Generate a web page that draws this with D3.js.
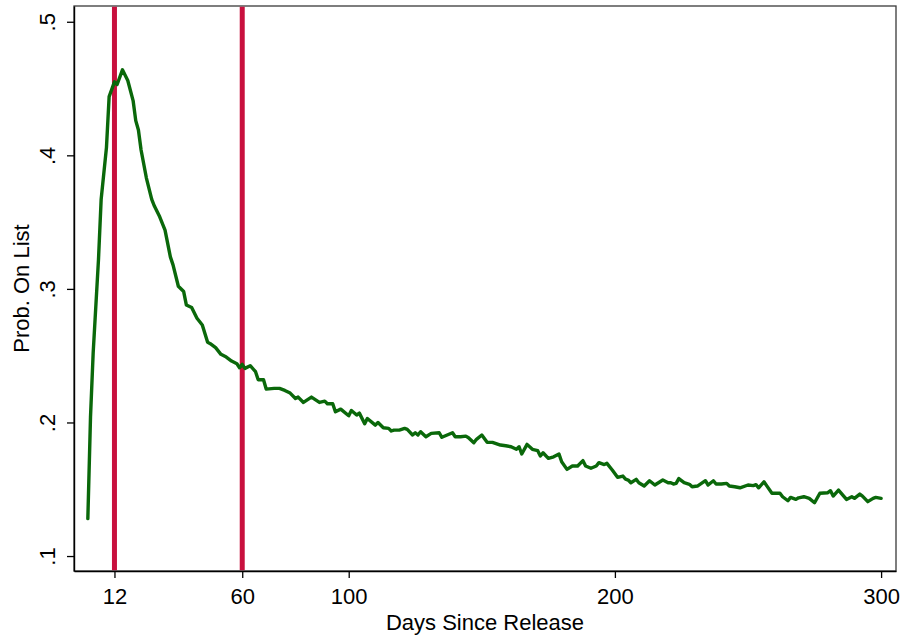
<!DOCTYPE html>
<html>
<head>
<meta charset="utf-8">
<script src="https://cdn.jsdelivr.net/npm/d3@7"></script>
<style>
  html, body { margin: 0; padding: 0; background: #fff; }
  svg { display: block; }
  text { font-family: "Liberation Sans", Arial, Helvetica, sans-serif; fill: #000; }
</style>
</head>
<body>
<svg id="chart" width="902" height="639"></svg>
<script>
// ---- data ----
const days = [2,3,4,6,7,9,10,12,13,15,17,19,20,21,22,24,26,27,29,31,33,34,36,38,39,41,43,45,47,48,50,52,54,56,58,59,60,61,63,65,66,68,69,72,74,76,78,80,81,83,86,89,91,92,94,95,97,100,101,103,104,106,107,110,111,113,115,116,117,119,121,122,124,125,126,127,129,131,134,135,137,139,140,142,144,145,147,148,150,152,154,157,159,161,163,164,165,167,169,171,172,173,175,177,179,180,182,184,186,188,189,191,193,194,196,197,199,201,203,204,205,206,208,209,211,213,215,218,220,221,222,223,224,226,228,229,231,234,235,237,238,240,242,243,245,247,250,252,253,254,256,257,259,262,263,265,266,268,269,271,273,275,277,280,281,282,284,287,289,290,292,293,295,297,298,300];
const probOnList = [0.128,0.204,0.252,0.322,0.367,0.406,0.444,0.455,0.453,0.464,0.456,0.441,0.426,0.419,0.404,0.383,0.367,0.362,0.354,0.344,0.324,0.318,0.302,0.298,0.288,0.286,0.278,0.273,0.260,0.259,0.256,0.251,0.249,0.246,0.244,0.241,0.2435,0.2405,0.2425,0.238,0.232,0.232,0.225,0.2255,0.2255,0.224,0.222,0.218,0.219,0.215,0.219,0.215,0.216,0.214,0.214,0.208,0.210,0.205,0.209,0.2056,0.207,0.199,0.203,0.198,0.200,0.196,0.1956,0.1936,0.1943,0.1943,0.1956,0.1948,0.1906,0.1923,0.1906,0.1931,0.1893,0.1918,0.1923,0.1889,0.1906,0.1923,0.1893,0.1893,0.1898,0.1886,0.1848,0.1874,0.1906,0.1851,0.1851,0.1831,0.1826,0.1818,0.1799,0.1818,0.1764,0.1836,0.1799,0.1789,0.1749,0.1773,0.1731,0.1743,0.1764,0.1706,0.1649,0.1674,0.1674,0.1714,0.1674,0.1657,0.1674,0.1699,0.1685,0.1694,0.1644,0.1589,0.1599,0.1576,0.1569,0.1549,0.1574,0.1549,0.1524,0.1564,0.1532,0.1569,0.1549,0.1549,0.1539,0.1544,0.158,0.1549,0.1537,0.1519,0.1524,0.1564,0.1532,0.1564,0.1539,0.1539,0.1544,0.1524,0.1519,0.1511,0.1532,0.1527,0.1534,0.1511,0.1556,0.1527,0.147,0.147,0.1444,0.1414,0.1439,0.1424,0.1436,0.1444,0.1432,0.1399,0.147,0.1474,0.1489,0.1449,0.1494,0.1424,0.1444,0.1432,0.1464,0.1449,0.1407,0.1432,0.1439,0.1432];
const markerDays = [12, 60];
const xTicks = [12, 60, 100, 200, 300];
const yTicks = [0.1, 0.2, 0.3, 0.4, 0.5];
const yTickLabels = [".1", ".2", ".3", ".4", ".5"];
const xTitle = "Days Since Release";
const yTitle = "Prob. On List";

// ---- layout ----
const L = 74, R = 896, T = 6, B = 571;
const svg = d3.select("#chart");

const x = d3.scaleLinear().domain([-3.2, 305.6]).range([L, R]);
const y = d3.scaleLinear().domain([0.0888, 0.5118]).range([B, T]);

// frame (top/right)
svg.append("rect")
  .attr("x", L).attr("y", T).attr("width", R - L).attr("height", B - T)
  .attr("fill", "none").attr("stroke", "#3a3a3a").attr("stroke-width", 1.3);

// marker lines
svg.append("g").selectAll("line").data(markerDays).join("line")
  .attr("x1", d => x(d)).attr("x2", d => x(d))
  .attr("y1", T + 0.7).attr("y2", B - 0.7)
  .attr("stroke", "#c8103e").attr("stroke-width", 5);

// series line
const line = d3.line()
  .x((d, i) => x(days[i]))
  .y(d => y(d));
svg.append("path")
  .datum(probOnList)
  .attr("d", line)
  .attr("fill", "none")
  .attr("stroke", "#0a680a")
  .attr("stroke-width", 3.4)
  .attr("stroke-linejoin", "round")
  .attr("stroke-linecap", "round");

// x axis
const xAxis = d3.axisBottom(x).tickValues(xTicks).tickSize(7).tickSizeOuter(0)
  .tickPadding(9).tickFormat(d3.format("d"));
const gx = svg.append("g").attr("transform", `translate(0,${B})`).call(xAxis);
gx.select(".domain").attr("stroke", "#000").attr("stroke-width", 1.4);
gx.selectAll(".tick line").attr("stroke", "#000").attr("stroke-width", 1.3);
gx.selectAll(".tick text")
  .attr("font-family", "'Liberation Sans', Arial, sans-serif")
  .attr("font-size", 22).attr("fill", "#000")
  .attr("dy", null).attr("y", 33);

// y axis
const yAxis = d3.axisLeft(y).tickValues(yTicks).tickSize(7).tickSizeOuter(0)
  .tickFormat((d, i) => yTickLabels[i]);
const gy = svg.append("g").attr("transform", `translate(${L},0)`).call(yAxis);
gy.select(".domain").attr("stroke", "#000").attr("stroke-width", 1.4);
gy.selectAll(".tick line").attr("stroke", "#000").attr("stroke-width", 1.3);
gy.selectAll(".tick text")
  .attr("font-family", "'Liberation Sans', Arial, sans-serif")
  .attr("font-size", 22).attr("fill", "#000")
  .attr("x", null).attr("dy", null)
  .attr("text-anchor", "middle")
  .attr("transform", "translate(-19,0) rotate(-90)");

// titles
svg.append("text")
  .attr("x", (L + R) / 2).attr("y", 630)
  .attr("text-anchor", "middle").attr("font-size", 22)
  .text(xTitle);
svg.append("text")
  .attr("transform", `translate(29,${(T + B) / 2}) rotate(-90)`)
  .attr("text-anchor", "middle").attr("font-size", 22)
  .text(yTitle);
</script>
</body>
</html>
